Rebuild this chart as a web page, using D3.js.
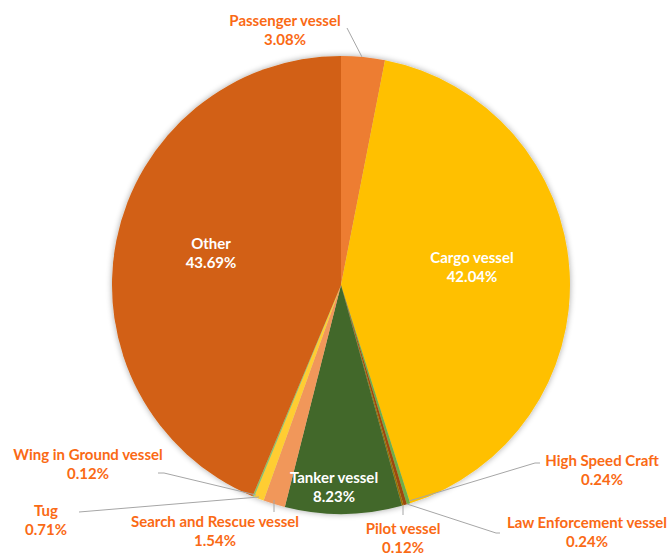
<!DOCTYPE html>
<html><head><meta charset="utf-8">
<script src="https://cdn.jsdelivr.net/npm/d3@7"></script>
<style>html,body{margin:0;padding:0;background:#fff;}svg{display:block;}</style>
</head><body>
<svg id="chart" width="669" height="556"></svg>
<script>
const categories = ["Passenger vessel","Cargo vessel","High Speed Craft","Law Enforcement vessel","Pilot vessel","Tanker vessel","Search and Rescue vessel","Tug","Wing in Ground vessel","Other"];
const values = [3.08, 42.04, 0.24, 0.24, 0.12, 8.23, 1.54, 0.71, 0.12, 43.69];
const valueLabels = ["3.08%","42.04%","0.24%","0.24%","0.12%","8.23%","1.54%","0.71%","0.12%","43.69%"];
const colors = ["#ED7D31","#FFC000","#70AD47","#9E480E","#997300","#43682B","#F1975A","#FFCD33","#8CC168","#D26012"];

const svg = d3.select("#chart");
const cx = 341, cy = 285, R = 229;

const defs = svg.append("defs");
const f = defs.append("filter").attr("id","sh").attr("x","-10%").attr("y","-10%").attr("width","120%").attr("height","120%");
f.append("feGaussianBlur").attr("in","SourceAlpha").attr("stdDeviation",3).attr("result","b");
f.append("feOffset").attr("in","b").attr("dx",0).attr("dy",0).attr("result","o");
f.append("feComponentTransfer").attr("in","o").attr("result","t").append("feFuncA").attr("type","linear").attr("slope",0.35);
const fm = f.append("feMerge"); fm.append("feMergeNode").attr("in","t"); fm.append("feMergeNode").attr("in","SourceGraphic");

const pie = d3.pie().sort(null).value(d => d)(values);
const arc = d3.arc().innerRadius(0).outerRadius(R);
const g = svg.append("g").attr("transform",`translate(${cx},${cy})`);
const gp = g.append("g").attr("filter","url(#sh)");
gp.selectAll("path").data(pie).join("path").attr("d",arc).attr("fill",(d,i)=>colors[i]);

const layout = {
  "Passenger vessel":        {x:285, y:20, inside:false, leader:[[347,28],[362,57]]},
  "Cargo vessel":            {x:472, y:257, inside:true},
  "High Speed Craft":        {x:602, y:460, inside:false, leader:[[540,463],[535,463],[409,501]]},
  "Law Enforcement vessel":  {x:587, y:522, inside:false, leader:[[500,533],[496,533],[407,504]]},
  "Pilot vessel":            {x:403, y:528, inside:false, leader:[[403,515],[403,505]]},
  "Tanker vessel":           {x:334, y:477, inside:true},
  "Search and Rescue vessel":{x:215, y:521, inside:false, leader:[[274,512],[274,500]]},
  "Tug":                     {x:46,  y:510, inside:false, leader:[[79,512],[259,497]]},
  "Wing in Ground vessel":   {x:88,  y:454, inside:false, leader:[[158,473],[164,473],[256,495]]},
  "Other":                   {x:211, y:243, inside:true}
};

const lines = svg.append("g");
const labels = svg.append("g").attr("font-family","Lato, 'Open Sans', sans-serif").attr("font-weight","bold").attr("font-size","15px").attr("text-anchor","middle");

categories.forEach((c,i)=>{
  const L = layout[c];
  if (L.leader) {
    lines.append("polyline").attr("points",L.leader.map(p=>p.join(",")).join(" "))
      .attr("fill","none").attr("stroke","#A6A6A6").attr("stroke-width",1);
  }
  const fill = L.inside ? "#FFFFFF" : "#FA6A15";
  const t = labels.append("text").attr("fill",fill);
  t.append("tspan").attr("x",L.x).attr("y",L.y+6).text(c);
  t.append("tspan").attr("x",L.x).attr("y",L.y+24.5).text(valueLabels[i]);
});
</script>
</body></html>
